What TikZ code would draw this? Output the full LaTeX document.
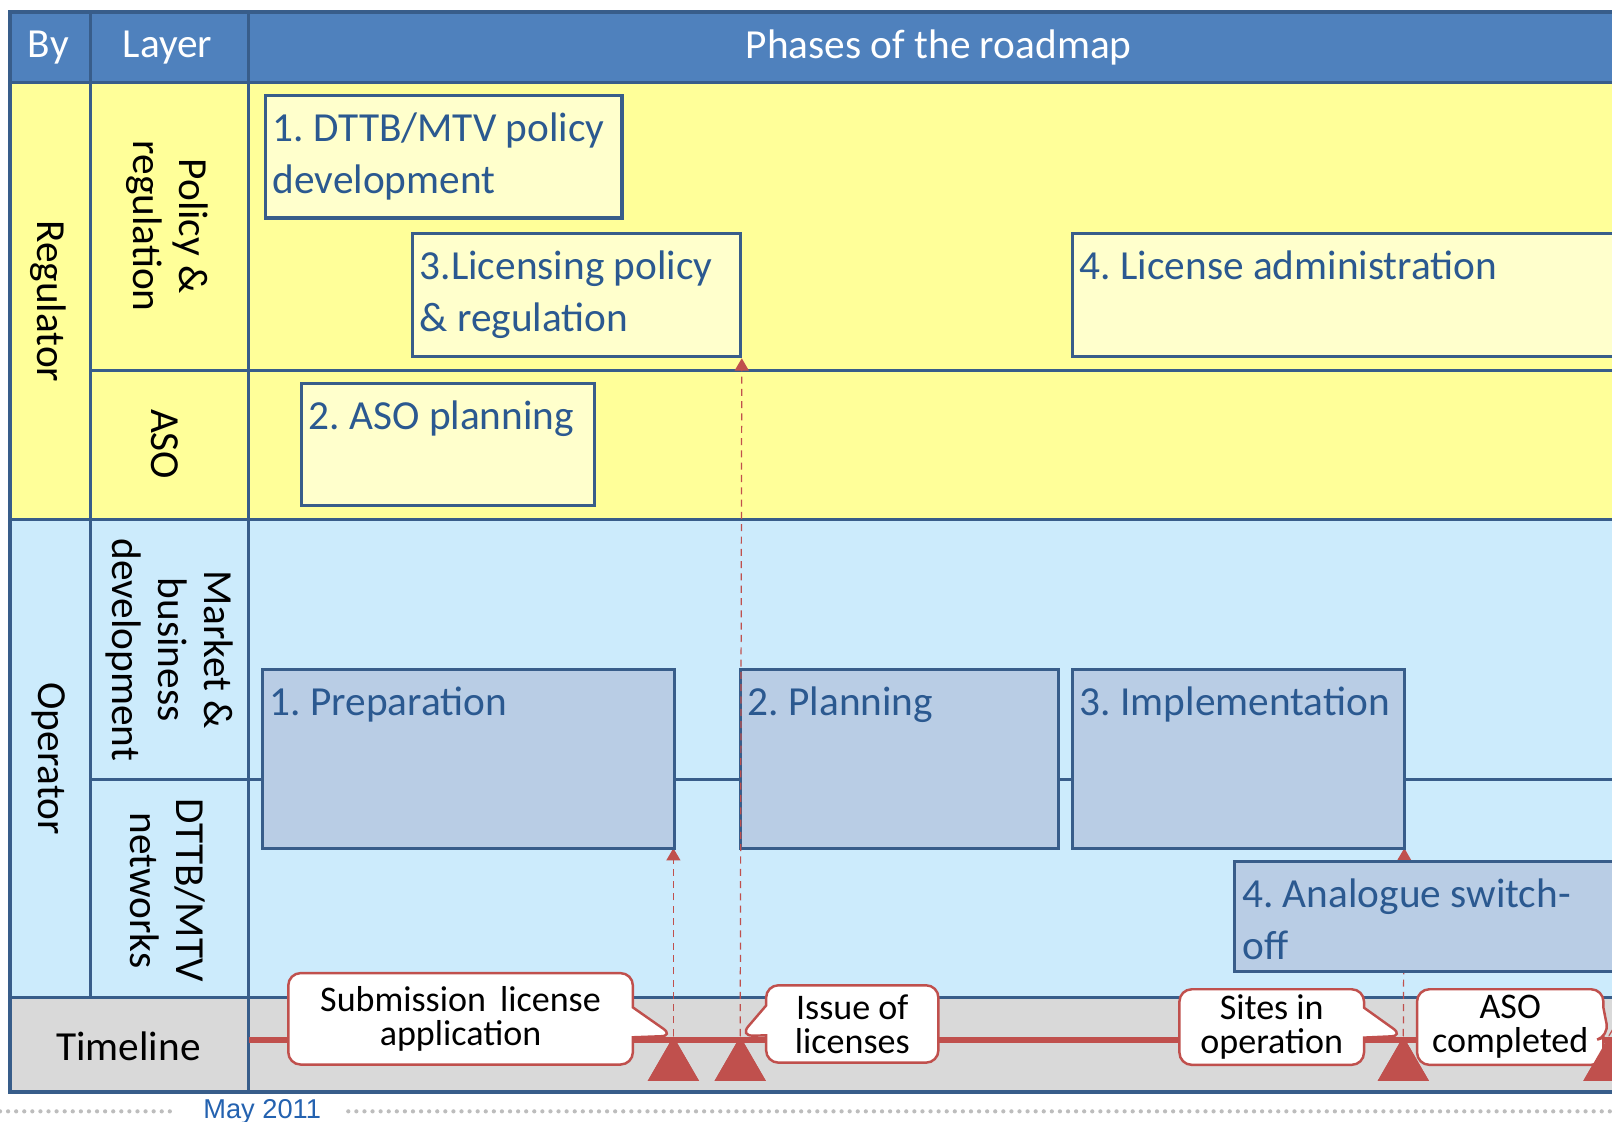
\documentclass[tikz,border=0pt]{standalone}
\usepackage{fontspec}
\setmainfont{Carlito}
\newfontfamily\datefont{Liberation Sans}
\usetikzlibrary{fit,shapes.geometric,shapes.callouts,arrows.meta}
\frenchspacing

\definecolor{hdblue}{HTML}{4F81BD}
\definecolor{gridblue}{HTML}{385D8A}
\definecolor{regyellow}{HTML}{FFFF99}
\definecolor{boxyellow}{HTML}{FFFFCC}
\definecolor{opblue}{HTML}{CCEBFC}
\definecolor{boxblue}{HTML}{B9CDE5}
\definecolor{tlgray}{HTML}{D9D9D9}
\definecolor{tlred}{HTML}{C0504D}
\definecolor{boxink}{HTML}{2B5990}
\definecolor{dateblue}{HTML}{2462B0}
\definecolor{dotgray}{HTML}{BDBDBD}

\tikzset{
  gridline/.style={draw=gridblue, line width=1.8pt},
  regbox/.style={draw=gridblue, line width=1.8pt, fill=boxyellow, inner sep=0pt},
  opbox/.style={draw=gridblue, line width=1.8pt, fill=boxblue, inner sep=0pt},
  boxtext/.style={anchor=north west, align=left, text=boxink, font=\fontsize{23.5}{29.8}\selectfont, inner xsep=5pt, inner ysep=10.5pt},
  headtext/.style={text=white, font=\fontsize{23.5}{28}\selectfont},
  sidetext/.style={rotate=-90, align=center, font=\fontsize{23.5}{26}\selectfont},
  milestone/.style={regular polygon, regular polygon sides=3, fill=tlred, minimum size=33.7pt, inner sep=0pt},
  callbox/.style={rectangle callout, draw=tlred, line width=1.4pt, fill=white, rounded corners=7pt, align=center, font=\fontsize{20.5}{19.5}\selectfont, callout pointer width=17pt, inner sep=0pt},
  deadline/.style={color=tlred, line width=0.7pt, dash pattern=on 4pt off 3pt, -{Triangle[width=8pt,length=7pt]}},
}

\begin{document}
\begin{tikzpicture}[x=0.02056cm,y=-0.02056cm]
    \clip (0,0) rectangle (1568,1091);
    \fill[white] (0,0) rectangle (1568,1091);

    % zones
    \fill[hdblue] (10,12) rectangle (1580,80);
    \fill[regyellow] (10,80) rectangle (1580,505);
    \fill[opblue] (10,505) rectangle (1580,970);
    \fill[tlgray] (10,970) rectangle (1580,1062);

    % grid
    \draw[gridline] (88,12) -- (88,970);
    \draw[gridline] (242,12) -- (242,1062);
    \draw[gridline] (10,80) -- (1580,80);
    \draw[gridline] (88,360) -- (1580,360);
    \draw[gridline] (10,505) -- (1580,505);
    \draw[gridline] (88,758) -- (1580,758);
    \draw[gridline] (10,970) -- (1580,970);
    \draw[gridline, line width=2.2pt] (10,12) rectangle (1580,1062);

    % header and row labels
    \node[headtext] (by) at (47,46) {By};
    \node[headtext] (layer) at (163,46) {Layer};
    \node[headtext] (phases) at (913,46) {Phases of the roadmap};
    \node[sidetext] (regulator) at (47,293) {Regulator};
    \node[sidetext] (operator) at (47,738) {Operator};
    \node[sidetext] (policy) at (163,220) {Policy \&\\regulation};
    \node[sidetext] (aso) at (160,432) {ASO};
    \node[sidetext] (market) at (165,632) {Market \&\\business\\development};
    \node[sidetext] (networks) at (163,866) {DTTB/MTV\\networks};
    \node[font=\fontsize{23.5}{28}\selectfont] (timeline) at (125,1018) {Timeline};

    % milestones on the timeline
    \coordinate (tlstart) at (242,1012);
    \coordinate (tlend) at (1580,1012);
    \node[milestone] (tri1) at (655,1037) {};
    \node[milestone] (tri2) at (720,1037) {};
    \node[milestone] (tri3) at (1365,1037) {};
    \node[milestone] (tri4) at (1565,1037) {};

    % boxes (fit to corners)
    \node[regbox, fit={(258,93) (605,212)}] (pol1) {};
    \node[regbox, fit={(401,227) (720,347)}] (lic3) {};
    \node[regbox, fit={(1043,227) (1600,347)}] (adm4) {};
    \node[regbox, fit={(293,373) (578,492)}] (aso2) {};
    \node[opbox, fit={(720,651) (1030,825)}] (plan2) {};
    \node[opbox, fit={(1201,838) (1600,945)}] (asw4) {};

    \path[deadline]
    (tri1.corner 1) edge (655,825)
    (tri2.corner 1) edge (lic3.south east)
    (tri3.corner 1) edge (1366,825)
    (tri4.corner 1) edge (asw4.south east)
    ;

    \node[opbox, fit={(255,651) (656,825)}] (prep1) {};
    \node[opbox, fit={(1043,651) (1366,825)}] (impl3) {};
    \node[opbox, fit={(1201,838) (1600,945)}] (asw4b) {};

    \node[boxtext] (pol1t) at (pol1.north west) {1. DTTB/MTV policy\\development};
    \node[boxtext] (lic3t) at (lic3.north west) {3.Licensing policy\\\& regulation};
    \node[boxtext] (adm4t) at (adm4.north west) {4. License administration};
    \node[boxtext] (aso2t) at (aso2.north west) {2. ASO planning};
    \node[boxtext] (prep1t) at (prep1.north west) {1. Preparation};
    \node[boxtext] (plan2t) at (plan2.north west) {2. Planning};
    \node[boxtext] (impl3t) at (impl3.north west) {3. Implementation};
    \node[boxtext] (asw4t) at (asw4b.north west) {4. Analogue switch-\\off};

    % timeline
    \draw[tlred, line width=3.5pt] (tlstart) -- (tlend);

    \node[callbox, minimum width=196pt, minimum height=52pt, callout absolute pointer={(tri1.corner 1)}] (submit) at (448,991) {Submission\, license\\application};
    \node[callbox, minimum width=98pt, minimum height=44pt, callout absolute pointer={(tri2.corner 1)}] (issue) at (829,996) {Issue of\\licenses};
    \node[callbox, minimum width=105pt, minimum height=43pt, callout absolute pointer={(tri3.corner 1)}] (sites) at (1237,999) {Sites in\\operation};
    \node[callbox, minimum width=106pt, minimum height=43pt, callout absolute pointer={(tri4.corner 1)}] (asodone) at (1469,999) {ASO\\completed};

    \node[milestone] at (tri1) {};
    \node[milestone] at (tri2) {};
    \node[milestone] at (tri3) {};
    \node[milestone] at (tri4) {};

    % date line
    \node[text=dateblue, font=\datefont\fontsize{15.5}{17}\selectfont] (date) at (255,1081) {May 2011};
    \coordinate (dotl) at (0,1081);
    \coordinate (dotr) at (1568,1081);
    \path[draw=dotgray, line width=2.4pt, line cap=round, dash pattern=on 0pt off 4.6pt]
    (dotl) edge ([xshift=-12pt]date.west)
    ([xshift=12pt]date.east) edge (dotr)
    ;
\end{tikzpicture}
\end{document}
